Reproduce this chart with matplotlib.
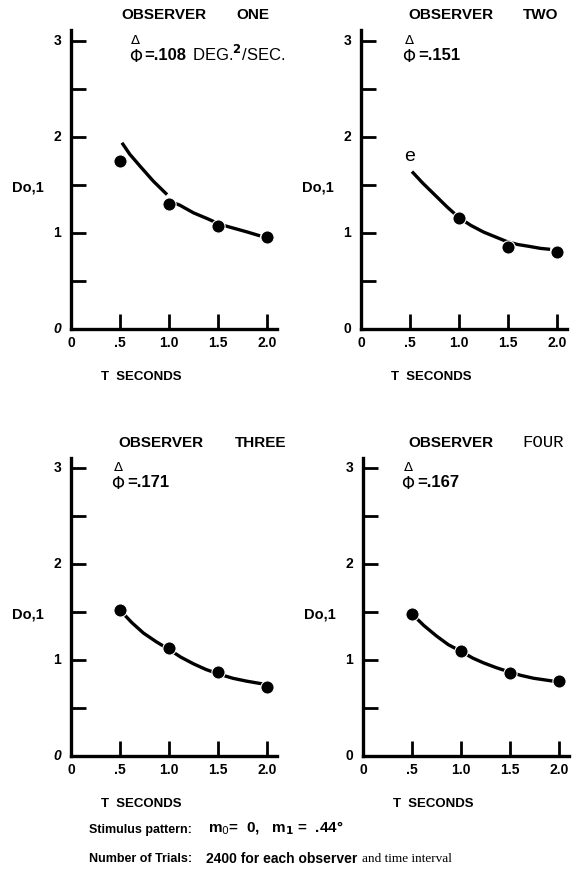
import matplotlib
matplotlib.use("Agg")
import matplotlib.pyplot as plt

# T (seconds) of the measured points
t_points = [0.5, 1.0, 1.5, 2.0]

# measured Do,1 values for each observer
obs_one = [1.75, 1.30, 1.07, 0.96]
obs_two = [None, 1.16, 0.85, 0.80]
obs_three = [1.52, 1.12, 0.87, 0.72]
obs_four = [1.48, 1.09, 0.86, 0.78]

# fitted curves
curve_one_x = [[0.52, 0.6, 0.71, 0.84, 0.98], [1.06, 1.11, 1.25, 1.39, 1.52, 1.66, 1.8, 1.93]]
curve_one_y = [[1.94, 1.82, 1.69, 1.54, 1.40], [1.31, 1.29, 1.21, 1.15, 1.09, 1.05, 1.01, 0.97]]
curve_two_x = [0.52, 0.63, 0.77, 0.88, 1.0, 1.12, 1.25, 1.37, 1.49, 1.6, 1.72, 1.83, 1.93]
curve_two_y = [1.64, 1.52, 1.38, 1.27, 1.16, 1.08, 1.01, 0.96, 0.91, 0.88, 0.86, 0.84, 0.83]
curve_three_x = [0.5, 0.62, 0.74, 0.87, 1.0, 1.12, 1.25, 1.38, 1.52, 1.65, 1.79, 1.96]
curve_three_y = [1.52, 1.39, 1.28, 1.19, 1.11, 1.03, 0.96, 0.90, 0.85, 0.81, 0.78, 0.75]
curve_four_x = [0.5, 0.62, 0.75, 0.87, 1.0, 1.12, 1.23, 1.36, 1.48, 1.61, 1.74, 1.94]
curve_four_y = [1.48, 1.36, 1.25, 1.16, 1.09, 1.02, 0.97, 0.92, 0.88, 0.84, 0.81, 0.78]

names = ["ONE", "TWO", "THREE", "FOUR"]
phi_vals = [".108", ".151", ".171", ".167"]

x_ticks = [0, 0.5, 1.0, 1.5, 2.0]
x_ticklabels = ["0", ".5", "1.0", "1.5", "2.0"]
y_ticks = [0.5, 1, 1.5, 2, 2.5, 3]
y_ticklabels = ["", "1", "", "2", "", "3"]

SANS = "Liberation Sans"
W, H = 576, 877
UNIT = 96.0

fig = plt.figure(figsize=(W / 100, H / 100), dpi=100)

# axes boxes in pixels: (left, y of zero line, top)
boxes = [(71, 329, 30), (361, 329, 30), (71, 756, 458), (363, 756, 458)]
data = [obs_one, obs_two, obs_three, obs_four]
curves = [(curve_one_x, curve_one_y), ([curve_two_x], [curve_two_y]),
          ([curve_three_x], [curve_three_y]), ([curve_four_x], [curve_four_y])]
# text positions in data units, per panel
title_x = [0.51, 0.48, 0.48, 0.46]
name_x = [1.69, 1.65, 1.67, 1.63]
phi_x = [0.66, 0.49, 0.48, 0.46]

for i, (left, zero, top) in enumerate(boxes):
    ax = fig.add_axes([left / W, (H - zero) / H, 2.1 * 98 / W, (zero - top) / H])
    ax.set_xlim(0, 2.1)
    ax.set_ylim(0, (zero - top) / UNIT)
    for s in ["top", "right"]:
        ax.spines[s].set_visible(False)
    for s in ["left", "bottom"]:
        ax.spines[s].set_linewidth(2.4)
    ax.set_xticks(x_ticks[1:])
    ax.set_xticklabels([])
    ax.set_yticks(y_ticks)
    ax.set_yticklabels([])
    ax.tick_params(axis="both", direction="in", length=11, width=2)

    # tick labels as text so the zero sits at the corner
    for xv, lab in zip(x_ticks, x_ticklabels):
        ax.text(xv, -0.07, lab, ha="center", va="top", fontsize=10,
                fontweight="bold", family=SANS)
    for yv, lab in zip(y_ticks, y_ticklabels):
        if lab:
            ax.text(-0.1, yv, lab, ha="right", va="center", fontsize=10,
                    fontweight="bold", family=SANS)
    zstyle = "italic" if i in (0, 2) else "normal"
    ax.text(-0.1, 0, "0", ha="right", va="center", fontsize=10,
            fontweight="bold", style=zstyle, family=SANS)

    cx, cy = curves[i]
    for xs, ys in zip(cx, cy):
        ax.plot(xs, ys, color="black", lw=2.4, solid_capstyle="butt")
    pts = [(t, v) for t, v in zip(t_points, data[i]) if v is not None]
    ax.plot([p[0] for p in pts], [p[1] for p in pts], "o", color="black",
            markersize=9.5, markeredgecolor="white", markeredgewidth=0.8, clip_on=False)

    ax.text(-0.28, 1.47, "Do,1", ha="right", va="center", fontsize=10.5,
            fontweight="bold", family=SANS)
    ax.text(0.72, -0.5, "T  SECONDS", ha="center", va="center", fontsize=9.5,
            fontweight="bold", family=SANS)

    # phi with the triangle hat
    ax.text(phi_x[i], 2.83, "\u03a6", ha="center", va="center", fontsize=12,
            family="DejaVu Sans")
    ax.text(phi_x[i], 3.01, "\u0394", ha="center", va="center", fontsize=9.5,
            family="DejaVu Sans")
    ax.text(phi_x[i] + 0.09, 2.85, "=" + phi_vals[i], ha="left", va="center",
            fontsize=12, fontweight="bold", family=SANS)
    if i == 0:
        ax.text(1.23, 2.87, "DEG.$^{\\mathbf{2}}$/SEC.", ha="left", va="center",
                fontsize=12, family=SANS)
    if i == 1:
        ax.text(0.5, 1.8, "e", ha="center", va="center", fontsize=14, family=SANS)

    # title
    ty = (zero - (top - 15)) / UNIT
    ax.text(title_x[i], ty, "OBSERVER", ha="left", va="center", fontsize=11,
            fontweight="bold", family=SANS)
    if names[i] == "FOUR":
        ax.text(name_x[i], ty, names[i], ha="left", va="center",
                fontsize=12.5, family="Liberation Mono")
    else:
        ax.text(name_x[i], ty, names[i], ha="left", va="center",
                fontsize=11, fontweight="bold", family=SANS)
    for t in ax.texts:
        t.set_clip_on(False)

fig.text(89 / W, 1 - 830 / H, "Stimulus pattern:", ha="left", va="center",
         fontsize=9, fontweight="bold", family=SANS)
fig.text(208 / W, 1 - 828 / H,
         "m$_{\\mathit{0}}$=  0,   m$_{\\mathbf{1}}$ =  .44\u00b0",
         ha="left", va="center", fontsize=11, fontweight="bold", family=SANS)
fig.text(89 / W, 1 - 859 / H, "Number of Trials:", ha="left", va="center",
         fontsize=9, fontweight="bold", family=SANS)
fig.text(206 / W, 1 - 859 / H, "2400 for each observer", ha="left", va="center",
         fontsize=10, fontweight="bold", family=SANS)
fig.text(362 / W, 1 - 859 / H, "and time interval", ha="left", va="center",
         fontsize=9.5, family="Liberation Serif")

fig.savefig("out.png", dpi=100, facecolor="white")
